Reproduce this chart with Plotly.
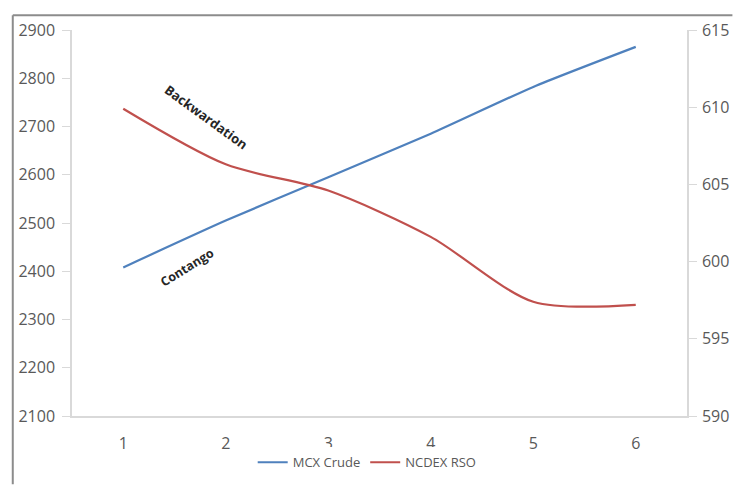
import plotly.graph_objects as go

categories = [1, 2, 3, 4, 5, 6]
mcx_crude = [2408, 2505, 2595, 2685, 2782, 2865]
ncdex_rso = [609.9, 606.3, 604.6, 601.6, 597.4, 597.2]
left_ticks = [2100, 2200, 2300, 2400, 2500, 2600, 2700, 2800, 2900]
right_ticks = [590, 595, 600, 605, 610, 615]

FONT = "Open Sans"
TICK_COLOR = "#595959"

W, H = 741, 489
ML, MR, MT, MB = 72, 46, 30, 69
PW, PH = W - ML - MR, H - MT - MB


def px_x(px):
    return (px - ML) / PW


def px_y(py):
    return (H - MB - py) / PH


fig = go.Figure()
fig.add_trace(go.Scatter(
    x=categories, y=mcx_crude, name="MCX Crude", mode="lines",
    line=dict(color="#4F81BD", width=2.2, shape="spline", smoothing=0.6),
    yaxis="y",
))
fig.add_trace(go.Scatter(
    x=categories, y=ncdex_rso, name="NCDEX RSO", mode="lines",
    line=dict(color="#C0504D", width=2.2, shape="spline", smoothing=0.8),
    yaxis="y2",
))

fig.update_layout(
    width=W, height=H,
    margin=dict(l=ML, r=MR, t=MT, b=MB),
    paper_bgcolor="white", plot_bgcolor="white",
    font=dict(family=FONT, color=TICK_COLOR),
    showlegend=True,
    legend=dict(orientation="h", x=0.48, y=-0.12, xanchor="center", yanchor="middle",
                font=dict(size=13, color=TICK_COLOR), itemwidth=30, tracegroupgap=0),
    xaxis=dict(range=[0.5, 6.5], tickvals=categories, ticktext=[str(c) for c in categories],
               showgrid=False, zeroline=False, showline=True, linecolor="#D9D9D9", linewidth=1.5,
               ticks="", tickfont=dict(size=16, color=TICK_COLOR), ticklabelstandoff=12),
    yaxis=dict(range=[2100, 2900], tickvals=left_ticks, showgrid=False, zeroline=False,
               showline=True, linecolor="#D9D9D9", linewidth=1.5,
               ticks="outside", ticklen=8, tickcolor="#D9D9D9",
               tickfont=dict(size=16, color=TICK_COLOR), ticklabelstandoff=4),
    yaxis2=dict(range=[590, 615], tickvals=right_ticks, overlaying="y", side="right",
                showgrid=False, zeroline=False, showline=True, linecolor="#D9D9D9", linewidth=1.5,
                ticks="outside", ticklen=8, tickcolor="#D9D9D9",
                tickfont=dict(size=16, color=TICK_COLOR), ticklabelstandoff=2),
    shapes=[
        dict(type="line", xref="paper", yref="paper",
             x0=px_x(12), x1=px_x(W), y0=px_y(15), y1=px_y(15),
             line=dict(color="#8C8C8C", width=2), layer="below"),
        dict(type="line", xref="paper", yref="paper",
             x0=px_x(12), x1=px_x(12), y0=px_y(15), y1=px_y(H),
             line=dict(color="#8C8C8C", width=2), layer="below"),
    ],
    annotations=[
        dict(text="<b>Backwardation</b>", x=1.81, y=2720, xref="x", yref="y", showarrow=False,
             textangle=36, font=dict(size=13, color="#262626", family=FONT)),
        dict(text="<b>Contango</b>", x=1.62, y=2408, xref="x", yref="y", showarrow=False,
             textangle=-32, font=dict(size=12.5, color="#262626", family=FONT)),
    ],
)

POST = """
document.documentElement.style.margin='0';
document.documentElement.style.overflow='hidden';
document.body.style.margin='0';
document.body.style.overflow='hidden';
"""

fig.write_html("out.html", config={"displayModeBar": False}, post_script=POST)
